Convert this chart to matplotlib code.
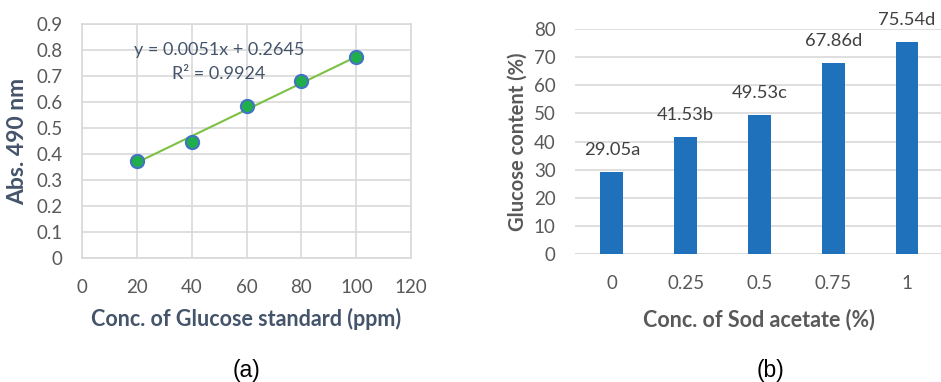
import numpy as np
import matplotlib.pyplot as plt

# (a) glucose standard curve
conc_std = np.array([20, 40, 60, 80, 100])
absorbance = np.array([0.374, 0.447, 0.586, 0.682, 0.773])
slope, intercept = 0.0051, 0.2645

# (b) glucose content vs sodium acetate
acetate_labels = ['0', '0.25', '0.5', '0.75', '1']
glucose = [29.05, 41.53, 49.53, 67.86, 75.54]
letters = ['a', 'b', 'c', 'd', 'd']

plt.rcParams['font.family'] = ['Lato', 'DejaVu Sans']
tick_col = '#595959'
label_col = '#44546a'
grid_col = '#d9d9d9'

fig = plt.figure(figsize=(9.41, 3.82), dpi=100)

# ---- left panel ----
ax1 = fig.add_axes([0.087, 0.325, 0.350, 0.612])
ax1.set_xlim(0, 120)
ax1.set_ylim(0, 0.9)
ax1.set_xticks(np.arange(0, 121, 20))
ax1.set_yticks(np.arange(0, 0.91, 0.1))
ax1.set_yticklabels(['0'] + ['%.1f' % v for v in np.arange(0.1, 0.91, 0.1)])
ax1.grid(True, color=grid_col, linewidth=1.2)
ax1.set_axisbelow(True)
for s in ax1.spines.values():
    s.set_color(grid_col)
    s.set_linewidth(1.2)
ax1.tick_params(length=0, labelsize=13.5, colors=tick_col)
ax1.tick_params(axis='x', pad=15)
ax1.tick_params(axis='y', pad=14)

xfit = np.array([conc_std[0], conc_std[-1]])
ax1.plot(xfit, slope * xfit + intercept, color='#7cc142', linewidth=1.5, zorder=2)
ax1.plot(conc_std, absorbance, 'o', markersize=9.5, markerfacecolor='#1fae4b',
         markeredgecolor='#4472c4', markeredgewidth=1.5, zorder=3)
ax1.text(50, 0.8, 'y = %.4fx + %.4f' % (slope, intercept), ha='center', va='center',
         fontsize=13, color=label_col)
ax1.text(50, 0.708, 'R² = 0.9924', ha='center', va='center', fontsize=13, color=label_col)
ax1.set_xlabel('Conc. of Glucose standard (ppm)', fontsize=15.5, fontweight='bold',
               color=label_col, labelpad=9)
ax1.set_ylabel('Abs. 490 nm', fontsize=16.5, fontweight='bold', color=label_col, labelpad=6)

# ---- right panel ----
ax2 = fig.add_axes([0.611, 0.335, 0.392, 0.589])
x = np.arange(len(glucose))
ax2.bar(x, glucose, width=0.31, color='#2071bb', zorder=3)
ax2.set_xlim(-0.5, 4.5)
ax2.set_ylim(0, 80)
ax2.set_yticks(np.arange(0, 81, 10))
ax2.set_xticks(x)
ax2.set_xticklabels(acetate_labels)
ax2.yaxis.grid(True, color=grid_col, linewidth=1.2)
ax2.set_axisbelow(True)
for s in ax2.spines.values():
    s.set_visible(False)
ax2.axhline(0, color=grid_col, linewidth=1.2, zorder=2)
ax2.tick_params(length=0, labelsize=13.5, colors=tick_col)
ax2.tick_params(axis='x', pad=15)
ax2.tick_params(axis='y', pad=14)
for xi, v, l in zip(x, glucose, letters):
    ax2.text(xi, v + 5, '%.2f%s' % (v, l), ha='center', va='bottom',
             fontsize=13.2, color='#404040')
ax2.set_xlabel('Conc. of Sod acetate (%)', fontsize=15.5, fontweight='bold',
               color=tick_col, labelpad=12)
ax2.set_ylabel('Glucose content (%)', fontsize=14.5, fontweight='bold', color=tick_col,
               labelpad=4)

# captions
fig.text(247 / 941, 1 - 371 / 382, '(a)', ha='center', va='center', fontsize=16.5,
         family='Liberation Sans', color='black')
fig.text(770 / 941, 1 - 371 / 382, '(b)', ha='center', va='center', fontsize=16.5,
         family='Liberation Sans', color='black')

fig.savefig('out.png', dpi=100)
